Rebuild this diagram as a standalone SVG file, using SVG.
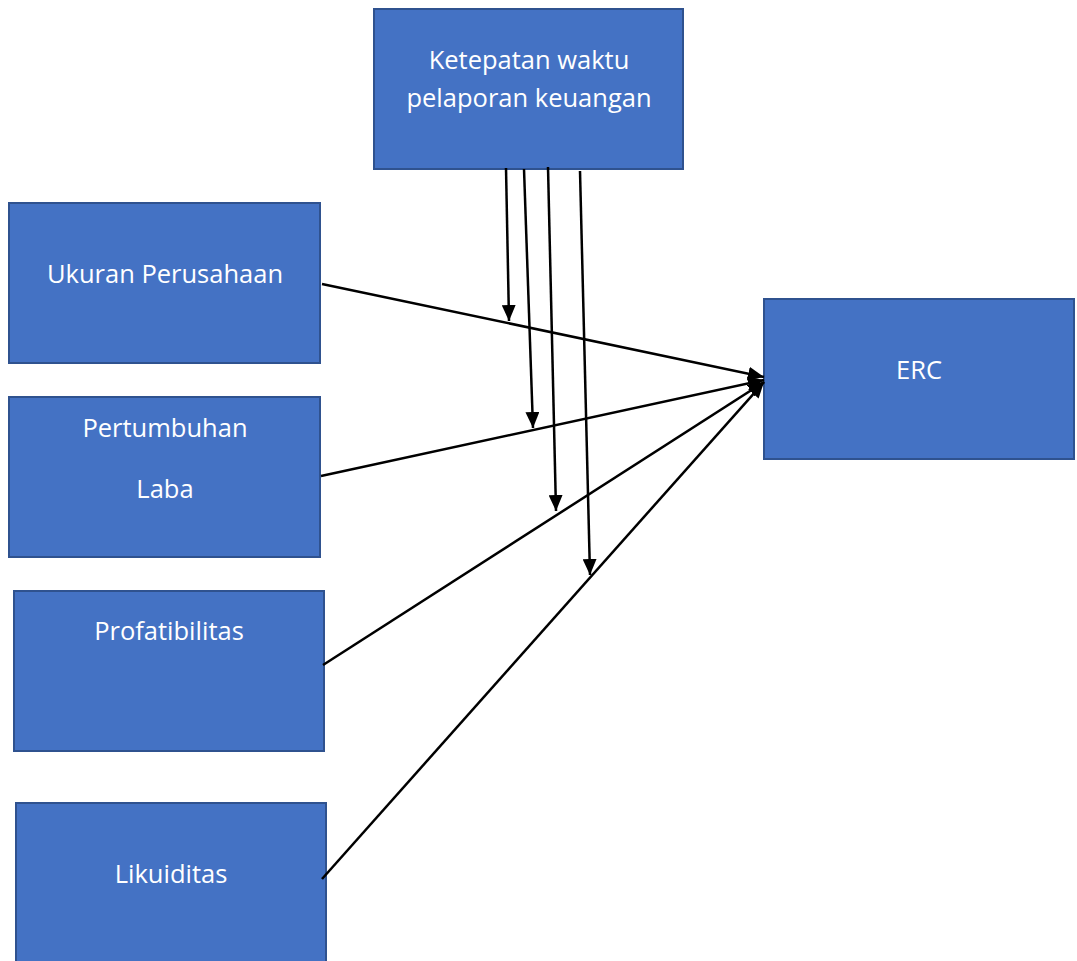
<svg xmlns="http://www.w3.org/2000/svg" width="1077" height="961" viewBox="0 0 1077 961">
<style>
.box{fill:#4472C4;stroke:#2F528F;stroke-width:2}
.lbl{fill:#ffffff;font-family:"Open Sans","Liberation Sans",sans-serif;font-size:25.5px;text-anchor:middle;dominant-baseline:central}
.con{stroke:#000;stroke-width:2.5;fill:none;marker-end:url(#ah)}
</style>
<defs>
<marker id="ah" markerUnits="userSpaceOnUse" markerWidth="17" markerHeight="14" refX="16" refY="7" orient="auto">
<path d="M0,0 L16,7 L0,14 z" fill="#000"/>
</marker>
</defs>
<rect width="1077" height="961" fill="#fff"/>
<g id="node-ketepatan">
<rect class="box" x="374" y="9" width="309" height="160"/>
<text class="lbl" x="529" y="59">Ketepatan waktu</text>
<text class="lbl" x="529" y="97">pelaporan keuangan</text>
</g>
<g id="node-ukuran">
<rect class="box" x="9" y="203" width="311" height="160"/>
<text class="lbl" x="165" y="273">Ukuran Perusahaan</text>
</g>
<g id="node-pertumbuhan">
<rect class="box" x="9" y="397" width="311" height="160"/>
<text class="lbl" x="165" y="427">Pertumbuhan</text>
<text class="lbl" x="165" y="488">Laba</text>
</g>
<g id="node-profatibilitas">
<rect class="box" x="14" y="591" width="310" height="160"/>
<text class="lbl" x="169" y="630">Profatibilitas</text>
</g>
<g id="node-likuiditas">
<rect class="box" x="16" y="803" width="310" height="170"/>
<text class="lbl" x="171" y="873">Likuiditas</text>
</g>
<g id="node-erc">
<rect class="box" x="764" y="299" width="310" height="160"/>
<text class="lbl" x="919" y="369">ERC</text>
</g>
<g id="connectors">
<line class="con" x1="506" y1="168" x2="509" y2="321"/>
<line class="con" x1="524" y1="169" x2="533" y2="428"/>
<line class="con" x1="548" y1="167" x2="556" y2="511"/>
<line class="con" x1="580" y1="171" x2="590" y2="575"/>
<line class="con" x1="322" y1="284" x2="764" y2="377"/>
<line class="con" x1="321" y1="476" x2="764" y2="380"/>
<line class="con" x1="323" y1="665" x2="764" y2="382"/>
<line class="con" x1="322" y1="879" x2="764" y2="382"/>
</g>
</svg>
